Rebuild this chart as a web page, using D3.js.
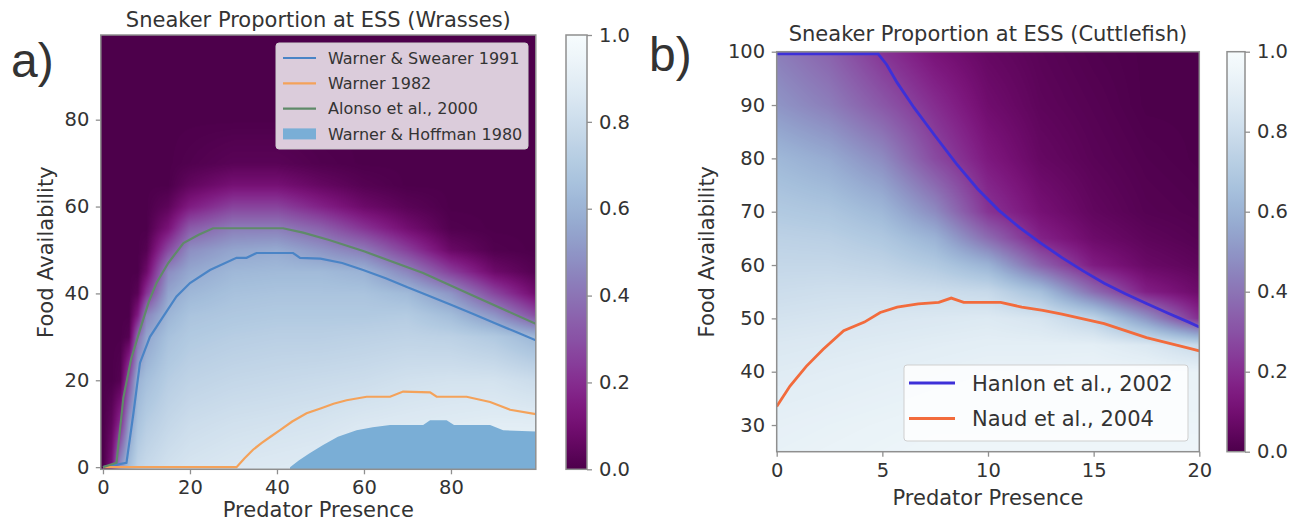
<!DOCTYPE html>
<html><head><meta charset="utf-8">
<script src="https://cdn.jsdelivr.net/npm/d3@7"></script>
<style>
body{margin:0;background:#ffffff;}
svg text{font-family:"DejaVu Sans",sans-serif;fill:#333;}
</style></head>
<body><svg id="chart" width="1298" height="527"></svg>
<script>
// ---------------- DATA ----------------
// Panel a (Wrasses): sneaker proportion grid, rows follow wrFood, columns follow wrPred
const wrPred = [0, 2, 4, 6, 8, 10, 15, 20, 30, 40, 50, 60, 70, 80, 90, 99];
const wrFood = [0, 10, 20, 30, 35, 40, 45, 50, 55, 60, 65, 70, 80, 99];
const wrProportion = [
  [0, 0.12, 0.5, 0.65, 0.75, 0.78, 0.82, 0.84, 0.86, 0.87, 0.88, 0.9, 0.91, 0.92, 0.93, 0.93],
  [0, 0.05, 0.2, 0.52, 0.67, 0.72, 0.77, 0.8, 0.82, 0.83, 0.84, 0.86, 0.87, 0.88, 0.89, 0.89],
  [0, 0, 0.02, 0.3, 0.6, 0.65, 0.72, 0.75, 0.77, 0.78, 0.79, 0.8, 0.82, 0.83, 0.83, 0.8],
  [0, 0, 0, 0.02, 0.38, 0.55, 0.66, 0.7, 0.72, 0.73, 0.73, 0.74, 0.75, 0.74, 0.7, 0.62],
  [0, 0, 0, 0, 0.15, 0.45, 0.61, 0.67, 0.69, 0.7, 0.7, 0.7, 0.71, 0.64, 0.5, 0.3],
  [0, 0, 0, 0, 0.03, 0.22, 0.55, 0.62, 0.66, 0.67, 0.67, 0.67, 0.63, 0.5, 0.27, 0.1],
  [0, 0, 0, 0, 0, 0.08, 0.47, 0.56, 0.62, 0.63, 0.63, 0.6, 0.45, 0.25, 0.08, 0.02],
  [0, 0, 0, 0, 0, 0.02, 0.28, 0.48, 0.55, 0.57, 0.5, 0.42, 0.25, 0.07, 0.01, 0],
  [0, 0, 0, 0, 0, 0, 0.12, 0.33, 0.43, 0.43, 0.35, 0.22, 0.1, 0.01, 0, 0],
  [0, 0, 0, 0, 0, 0, 0.04, 0.15, 0.26, 0.26, 0.17, 0.08, 0.03, 0, 0, 0],
  [0, 0, 0, 0, 0, 0, 0, 0.05, 0.11, 0.11, 0.06, 0.02, 0, 0, 0, 0],
  [0, 0, 0, 0, 0, 0, 0, 0.01, 0.03, 0.03, 0.01, 0, 0, 0, 0, 0],
  [0, 0, 0, 0, 0, 0, 0, 0, 0, 0, 0, 0, 0, 0, 0, 0],
  [0, 0, 0, 0, 0, 0, 0, 0, 0, 0, 0, 0, 0, 0, 0, 0]
];
const swearerX = [0, 5.4, 7, 8.5, 10.8, 13.8, 16.9, 20, 24.6, 30.7, 33, 35.3, 40, 43.7, 45.3, 50, 55, 59.8, 65, 70, 73.6, 80, 85, 90, 95, 99.5];
const swearerY = [0, 1, 12.4, 24, 30, 34.6, 39.3, 42.4, 45.4, 48.2, 48.2, 49.3, 49.3, 49.3, 48.2, 48, 47, 45.4, 43.5, 41.4, 40, 37.4, 35.3, 33.2, 31.1, 29.2];
const warner82X = [0, 30.7, 32.5, 34.5, 36.5, 38.5, 40.7, 43.5, 46.8, 50, 53, 56, 60.6, 66, 69, 75.2, 76.7, 83.6, 89, 93.6, 99.5];
const warner82Y = [0, 0, 2, 4, 5.6, 7, 8.5, 10.5, 12.4, 13.5, 14.6, 15.4, 16.2, 16.2, 17.4, 17.2, 16.2, 16.2, 15, 13.2, 12.2];
const alonsoX = [0, 3.1, 4.7, 6.5, 8.5, 10.5, 12.3, 15, 18.5, 22, 25.3, 41.4, 46, 52, 60, 73.6, 85, 99.5];
const alonsoY = [0, 1, 16, 25, 31.6, 38, 42.4, 47, 51.6, 53.5, 55, 55, 54, 52.3, 49.7, 44.7, 39.5, 33];
const hoffmanX = [43, 45, 47.5, 50.6, 54, 58.3, 62, 66, 73.6, 75.2, 79, 80.7, 89, 92, 99.5];
const hoffmanY = [0, 1.5, 3.2, 5.1, 7, 8.5, 9.2, 9.7, 9.7, 10.8, 10.8, 9.7, 9.7, 8.5, 8.2];
const wrLegend = ["Warner & Swearer 1991", "Warner 1982", "Alonso et al., 2000", "Warner & Hoffman 1980"];

// Panel b (Cuttlefish)
const cuPred = [0, 2.5, 5, 7.5, 10, 12.5, 15, 17.5, 20];
const cuFood = [25, 30, 40, 45, 50, 55, 60, 65, 70, 80, 90, 100];
const cuProportion = [
  [0.92, 0.93, 0.94, 0.95, 0.95, 0.95, 0.95, 0.95, 0.95],
  [0.91, 0.92, 0.93, 0.94, 0.94, 0.94, 0.94, 0.94, 0.94],
  [0.88, 0.89, 0.9, 0.91, 0.92, 0.92, 0.93, 0.93, 0.92],
  [0.86, 0.87, 0.88, 0.89, 0.9, 0.9, 0.9, 0.86, 0.78],
  [0.83, 0.84, 0.85, 0.86, 0.87, 0.84, 0.75, 0.5, 0.2],
  [0.8, 0.81, 0.81, 0.8, 0.78, 0.65, 0.38, 0.16, 0.08],
  [0.77, 0.77, 0.75, 0.7, 0.6, 0.35, 0.15, 0.07, 0.04],
  [0.74, 0.73, 0.69, 0.6, 0.38, 0.17, 0.08, 0.04, 0.02],
  [0.7, 0.68, 0.62, 0.47, 0.22, 0.11, 0.05, 0.02, 0.01],
  [0.62, 0.57, 0.47, 0.28, 0.14, 0.06, 0.03, 0.01, 0],
  [0.5, 0.43, 0.32, 0.2, 0.09, 0.04, 0.02, 0, 0],
  [0.43, 0.35, 0.22, 0.12, 0.06, 0.03, 0.01, 0, 0]
];
const hanlonX = [0, 2, 4, 4.8, 5.2, 5.7, 6.5, 7.5, 8.5, 9.5, 10.5, 11.5, 12.5, 13.5, 14.5, 15.5, 16.5, 17.5, 18.5, 19.5, 20];
const hanlonY = [99.6, 99.6, 99.6, 99.6, 97.6, 94.2, 89.5, 84.2, 79, 74.3, 70.3, 67, 64.1, 61.4, 58.9, 56.6, 54.6, 52.8, 51, 49.3, 48.4];
const naudX = [0, 0.63, 1.4, 2.2, 3.17, 4.15, 4.9, 5.7, 6.7, 7.67, 8.26, 8.85, 10.6, 11.6, 12.6, 13.5, 14.5, 15.5, 16.5, 17.5, 18.4, 19.4, 20];
const naudY = [33.5, 37.3, 41, 44.2, 47.7, 49.3, 51.1, 52.1, 52.7, 53, 53.8, 53, 53, 52.1, 51.5, 50.8, 49.9, 49, 47.7, 46.4, 45.5, 44.5, 43.9];
const cuLegend = ["Hanlon et al., 2002", "Naud et al., 2004"];

const wrXTicks = [0, 20, 40, 60, 80];
const wrYTicks = [0, 20, 40, 60, 80];
const cuXTicks = [0, 5, 10, 15, 20];
const cuYTicks = [30, 40, 50, 60, 70, 80, 90, 100];
const cbTicks = [0, 0.2, 0.4, 0.6, 0.8, 1.0];

// ---------------- DRAW ----------------
const svg = d3.select("#chart");
const cmap = v => d3.interpolateBuPu(1 - Math.max(0, Math.min(1, v)));
const lut = d3.range(256).map(i => d3.rgb(cmap(i / 255)));
const SPINE = "#8f8f8f";
let clipId = 0;

function locate(arr, v) {
  if (v <= arr[0]) return [0, 0];
  if (v >= arr[arr.length - 1]) return [arr.length - 2, 1];
  let i = d3.bisectRight(arr, v) - 1;
  if (i > arr.length - 2) i = arr.length - 2;
  return [i, (v - arr[i]) / (arr[i + 1] - arr[i])];
}

function heatmap(g, xs, ys, grid, x, y) {
  const x0 = x.range()[0], x1 = x.range()[1];
  const yTop = y.range()[1], yBot = y.range()[0];
  const w = Math.round(x1 - x0), h = Math.round(yBot - yTop);
  const cv = document.createElement("canvas");
  cv.width = w; cv.height = h;
  const ctx = cv.getContext("2d");
  const img = ctx.createImageData(w, h);
  for (let py = 0; py < h; py++) {
    const [j, ty] = locate(ys, y.invert(yTop + (py + 0.5) * (yBot - yTop) / h));
    for (let px = 0; px < w; px++) {
      const [i, tx] = locate(xs, x.invert(x0 + (px + 0.5) * (x1 - x0) / w));
      const v = (1 - ty) * ((1 - tx) * grid[j][i] + tx * grid[j][i + 1]) +
                ty * ((1 - tx) * grid[j + 1][i] + tx * grid[j + 1][i + 1]);
      const c = lut[Math.round(Math.max(0, Math.min(1, v)) * 255)];
      const k = (py * w + px) * 4;
      img.data[k] = c.r; img.data[k + 1] = c.g; img.data[k + 2] = c.b; img.data[k + 3] = 255;
    }
  }
  ctx.putImageData(img, 0, 0);
  g.append("image").attr("href", cv.toDataURL())
    .attr("x", x0).attr("y", yTop).attr("width", x1 - x0).attr("height", yBot - yTop)
    .attr("preserveAspectRatio", "none");
}

function makeClip(x, y) {
  const id = "clip" + (clipId++);
  svg.append("clipPath").attr("id", id).append("rect")
    .attr("x", x.range()[0]).attr("y", y.range()[1])
    .attr("width", x.range()[1] - x.range()[0]).attr("height", y.range()[0] - y.range()[1]);
  return "url(#" + id + ")";
}

function styleAxis(g, size) {
  g.select(".domain").remove();
  g.selectAll(".tick line").attr("stroke", SPINE).attr("stroke-width", 1.3);
  g.selectAll(".tick text").style("font-size", size + "px").attr("fill", "#333");
}

function frame(x, y) {
  svg.append("rect").attr("x", x.range()[0]).attr("y", y.range()[1])
    .attr("width", x.range()[1] - x.range()[0]).attr("height", y.range()[0] - y.range()[1])
    .attr("fill", "none").attr("stroke", SPINE).attr("stroke-width", 1.5);
}

function colorbar(x0, x1, c, name) {
  const grad = svg.append("defs").append("linearGradient").attr("id", name)
    .attr("x1", 0).attr("y1", 1).attr("x2", 0).attr("y2", 0);
  d3.range(0, 1.0001, 0.02).forEach(t => grad.append("stop").attr("offset", t).attr("stop-color", cmap(t)));
  svg.append("rect").attr("x", x0).attr("y", c.range()[1]).attr("width", x1 - x0)
    .attr("height", c.range()[0] - c.range()[1]).attr("fill", "url(#" + name + ")")
    .attr("stroke", SPINE).attr("stroke-width", 1.5);
  const ax = svg.append("g").attr("transform", `translate(${x1},0)`)
    .call(d3.axisRight(c).tickValues(cbTicks).tickFormat(d3.format(".1f")).tickSize(5).tickPadding(7));
  styleAxis(ax, 19.5);
}

function axes(x, y, xt, yt, title, titleY) {
  const gx = svg.append("g").attr("transform", `translate(0,${y.range()[0]})`)
    .call(d3.axisBottom(x).tickValues(xt).tickFormat(d3.format("d")).tickSize(5).tickPadding(6));
  styleAxis(gx, 19.5);
  const gy = svg.append("g").attr("transform", `translate(${x.range()[0]},0)`)
    .call(d3.axisLeft(y).tickValues(yt).tickFormat(d3.format("d")).tickSize(5).tickPadding(6.5));
  styleAxis(gy, 19.5);
  svg.append("text").attr("x", (x.range()[0] + x.range()[1]) / 2).attr("y", titleY)
    .attr("text-anchor", "middle").style("font-size", "21px").text(title);
}

// ===== Panel a =====
const xA = d3.scaleLinear().domain([-0.5, 99.5]).range([100.8, 535.8]);
const yA = d3.scaleLinear().domain([-0.5, 99.5]).range([469.3, 35]);
const gA = svg.append("g");
heatmap(gA, wrPred, wrFood, wrProportion, xA, yA);
const clipA = makeClip(xA, yA);
const linesA = svg.append("g").attr("clip-path", clipA);
const lineA = d3.line().x(d => xA(d[0])).y(d => yA(d[1]));
const areaA = d3.area().x(d => xA(d[0])).y0(yA(-0.5)).y1(d => yA(d[1]));
const zip = (a, b) => a.map((v, i) => [v, b[i]]);
const wrColors = ["#4a84c6", "#f4a25a", "#5f8a69", "#7aaed6"];
linesA.append("path").datum(zip(swearerX, swearerY)).attr("d", lineA)
  .attr("fill", "none").attr("stroke", wrColors[0]).attr("stroke-width", 2.2);
linesA.append("path").datum(zip(warner82X, warner82Y)).attr("d", lineA)
  .attr("fill", "none").attr("stroke", wrColors[1]).attr("stroke-width", 2.2);
linesA.append("path").datum(zip(alonsoX, alonsoY)).attr("d", lineA)
  .attr("fill", "none").attr("stroke", wrColors[2]).attr("stroke-width", 2.2);
linesA.append("path").datum(zip(hoffmanX, hoffmanY)).attr("d", areaA)
  .attr("fill", wrColors[3]).attr("stroke", "none");
frame(xA, yA);
axes(xA, yA, wrXTicks, wrYTicks, "Sneaker Proportion at ESS (Wrasses)", 27);

// legend a
const legA = svg.append("g");
legA.append("rect").attr("x", 276).attr("y", 43).attr("width", 252).attr("height", 106)
  .attr("rx", 3).attr("fill", "rgba(255,255,255,0.8)").attr("stroke", "#cfcfcf").attr("stroke-width", 1);
wrLegend.forEach((lab, i) => {
  const cy = 58 + i * 25.3;
  if (i < 3) legA.append("line").attr("x1", 283).attr("x2", 316).attr("y1", cy).attr("y2", cy)
    .attr("stroke", wrColors[i]).attr("stroke-width", 2.2);
  else legA.append("rect").attr("x", 283).attr("y", cy - 5.5).attr("width", 33).attr("height", 11)
    .attr("fill", wrColors[3]);
  legA.append("text").attr("x", 328).attr("y", cy).attr("dy", "0.36em")
    .style("font-size", "16px").text(lab);
});

// colorbar a
colorbar(566, 587, d3.scaleLinear().domain([0, 1]).range([469.3, 35]), "cbA");

// axis labels a
svg.append("text").attr("x", xA(49.5)).attr("y", 517).attr("text-anchor", "middle")
  .style("font-size", "21px").text("Predator Presence");
svg.append("text").attr("transform", `translate(53,${(35 + 469.3) / 2}) rotate(-90)`)
  .attr("text-anchor", "middle").style("font-size", "21px").text("Food Availability");

// ===== Panel b =====
const xB = d3.scaleLinear().domain([0, 20]).range([776.7, 1199.3]);
const yB = d3.scaleLinear().domain([25, 100]).range([451.7, 51.7]);
const gB = svg.append("g");
heatmap(gB, cuPred, cuFood, cuProportion, xB, yB);
const clipB = makeClip(xB, yB);
const linesB = svg.append("g").attr("clip-path", clipB);
const lineB = d3.line().x(d => xB(d[0])).y(d => yB(d[1]));
const cuColors = ["#3d30d8", "#f26b3c"];
linesB.append("path").datum(zip(hanlonX, hanlonY)).attr("d", lineB)
  .attr("fill", "none").attr("stroke", cuColors[0]).attr("stroke-width", 2.8);
linesB.append("path").datum(zip(naudX, naudY)).attr("d", lineB)
  .attr("fill", "none").attr("stroke", cuColors[1]).attr("stroke-width", 2.8);
frame(xB, yB);
axes(xB, yB, cuXTicks, cuYTicks, "Sneaker Proportion at ESS (Cuttlefish)", 41);

// legend b
const legB = svg.append("g");
legB.append("rect").attr("x", 904).attr("y", 365).attr("width", 284).attr("height", 76)
  .attr("rx", 3).attr("fill", "rgba(255,255,255,0.8)").attr("stroke", "#cfcfcf").attr("stroke-width", 1);
cuLegend.forEach((lab, i) => {
  const cy = 383 + i * 35.5;
  legB.append("line").attr("x1", 909).attr("x2", 955).attr("y1", cy).attr("y2", cy)
    .attr("stroke", cuColors[i]).attr("stroke-width", 2.8);
  legB.append("text").attr("x", 972).attr("y", cy).attr("dy", "0.36em")
    .style("font-size", "21px").text(lab);
});

colorbar(1227, 1245, d3.scaleLinear().domain([0, 1]).range([451.7, 51.7]), "cbB");

svg.append("text").attr("x", xB(10)).attr("y", 505).attr("text-anchor", "middle")
  .style("font-size", "21px").text("Predator Presence");
svg.append("text").attr("transform", `translate(714,${(51.7 + 451.7) / 2}) rotate(-90)`)
  .attr("text-anchor", "middle").style("font-size", "21px").text("Food Availability");

// panel letters
svg.append("text").attr("x", 11).attr("y", 77).style("font-family", "'Liberation Sans', Arial, sans-serif")
  .style("font-size", "48px").attr("fill", "#111").text("a)");
svg.append("text").attr("x", 649).attr("y", 71).style("font-family", "'Liberation Sans', Arial, sans-serif")
  .style("font-size", "48px").attr("fill", "#111").text("b)");
</script>
</body></html>
